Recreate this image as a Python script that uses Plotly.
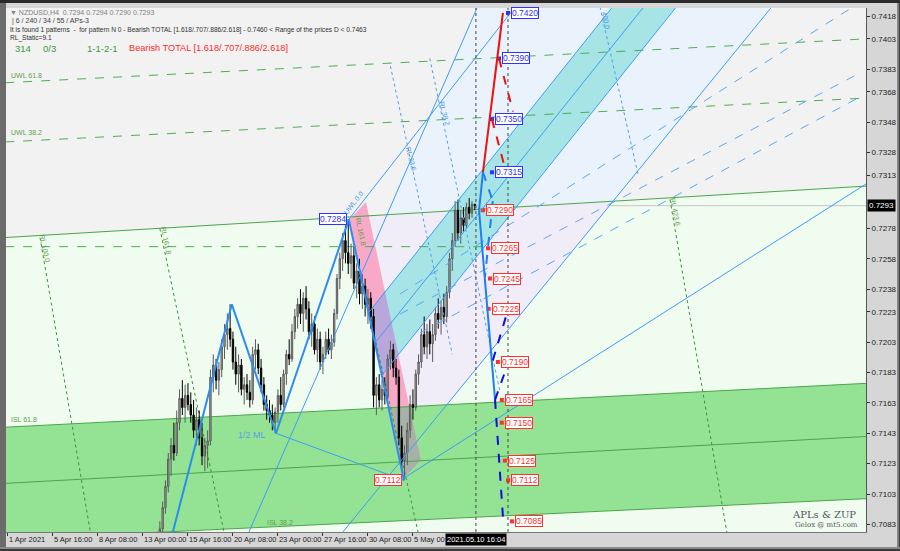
import plotly.graph_objects as go

# ---------------- data ----------------
bar_start = 53
opens = [.7060,.7068,.7080,.7094,.7108,.7126,.7135,.7130,.7150,.7166,.7160,.7168,.7162,.7155,.7145,.7152,.7140,.7128,.7135,.7138,
         .7180,.7188,.7178,.7185,.7200,.7208,.7212,.7205,.7190,.7182,.7188,.7172,.7175,.7170,.7165,.7195,.7198,.7186,.7175,.7162,
         .7158,.7155,.7150,.7157,.7168,.7162,.7182,.7195,.7192,.7210,.7220,.7228,.7222,.7232,.7225,.7210,.7215,.7198,.7205,.7190,
         .7195,.7205,.7198,.7203,.7222,.7245,.7258,.7270,.7262,.7255,.7260,.7242,.7250,.7235,.7240,.7228,.7232,.7220,.7168,.7175,
         .7165,.7172,.7168,.7192,.7198,.7186,.7180,.7140,.7125,.7130,.7145,.7162,.7160,.7182,.7190,.7208,.7200,.7210,.7202,.7208,
         .7222,.7218,.7226,.7220,.7236,.7258,.7270,.7290,.7275,.7285,.7280,.7292,.7288,.7294]
highs = [.7072,.7085,.7098,.7112,.7130,.7140,.7150,.7158,.7172,.7178,.7175,.7176,.7170,.7165,.7160,.7158,.7150,.7140,.7145,.7185,
         .7195,.7192,.7190,.7205,.7215,.7222,.7228,.7210,.7200,.7195,.7192,.7180,.7182,.7178,.7200,.7205,.7202,.7192,.7180,.7168,
         .7165,.7162,.7160,.7172,.7180,.7185,.7198,.7205,.7215,.7225,.7232,.7238,.7236,.7240,.7230,.7222,.7220,.7212,.7210,.7200,
         .7210,.7212,.7208,.7225,.7248,.7262,.7275,.7280,.7284,.7268,.7266,.7255,.7258,.7248,.7245,.7238,.7236,.7225,.7180,.7182,
         .7178,.7180,.7195,.7204,.7202,.7192,.7185,.7148,.7135,.7150,.7168,.7172,.7185,.7195,.7212,.7220,.7215,.7218,.7215,.7226,
         .7232,.7230,.7235,.7240,.7262,.7275,.7296,.7297,.7290,.7292,.7295,.7298,.7296,.7294]
lows = [.7055,.7064,.7076,.7090,.7104,.7115,.7125,.7128,.7145,.7155,.7150,.7158,.7150,.7140,.7135,.7135,.7122,.7118,.7120,.7135,
        .7170,.7172,.7168,.7180,.7192,.7198,.7200,.7185,.7175,.7170,.7168,.7162,.7165,.7160,.7162,.7185,.7182,.7170,.7158,.7152,
        .7150,.7145,.7143,.7150,.7158,.7160,.7175,.7188,.7190,.7205,.7212,.7215,.7210,.7218,.7205,.7200,.7195,.7190,.7185,.7182,
        .7192,.7195,.7192,.7200,.7218,.7238,.7250,.7255,.7248,.7245,.7238,.7232,.7228,.7225,.7220,.7215,.7212,.7160,.7155,.7160,
        .7158,.7162,.7165,.7185,.7180,.7175,.7135,.7118,.7112,.7122,.7140,.7152,.7158,.7175,.7186,.7195,.7192,.7195,.7190,.7204,
        .7212,.7208,.7215,.7216,.7232,.7250,.7266,.7270,.7268,.7276,.7278,.7284,.7285,.7290]
closes = [.7068,.7080,.7094,.7108,.7126,.7135,.7130,.7150,.7166,.7160,.7168,.7162,.7155,.7145,.7152,.7140,.7128,.7135,.7138,.7180,
          .7188,.7178,.7185,.7200,.7208,.7212,.7205,.7190,.7182,.7188,.7172,.7175,.7170,.7165,.7195,.7198,.7186,.7175,.7162,.7158,
          .7155,.7150,.7157,.7168,.7162,.7182,.7195,.7192,.7210,.7220,.7228,.7222,.7232,.7225,.7210,.7215,.7198,.7205,.7190,.7195,
          .7205,.7198,.7203,.7222,.7245,.7258,.7270,.7262,.7255,.7260,.7242,.7250,.7235,.7240,.7228,.7232,.7220,.7168,.7175,.7165,
          .7172,.7168,.7192,.7198,.7186,.7180,.7140,.7125,.7130,.7145,.7162,.7160,.7182,.7190,.7208,.7200,.7210,.7202,.7208,.7222,
          .7218,.7226,.7220,.7236,.7258,.7270,.7290,.7275,.7285,.7280,.7292,.7288,.7294,.7293]
bars = list(range(bar_start, bar_start + len(opens)))

x_tick_bars = [0, 16, 32, 48, 64, 80, 96, 112, 128, 144]
x_tick_text = ["1 Apr 2021", "5 Apr 16:00", "8 Apr 08:00", "13 Apr 00:00", "15 Apr 16:00",
               "20 Apr 08:00", "23 Apr 00:00", "27 Apr 16:00", "30 Apr 08:00", "5 May 00:00"]
y_tick_vals = [0.7418, 0.7403, 0.7383, 0.7368, 0.7348, 0.7328, 0.7313, 0.7278, 0.7258, 0.7238,
               0.7223, 0.7203, 0.7183, 0.7163, 0.7143, 0.7123, 0.7103, 0.7083]
last_price = 0.7293

# zigzag pivots (bar, price)
zz_bars = [55, 79.6, 95.3, 121.2, 140.8]
zz_prices = [0.7052, 0.7228, 0.7143, 0.7284, 0.7112]

# projection path (red up, blue down)
red_solid = [(168.9, 0.7315), (176.0, 0.7420)]
red_dash1 = [(174.6, 0.7390), (179.6, 0.7355)]
red_dash2 = [(172.1, 0.7350), (176.7, 0.7318)]
blue_solid = [(168.9, 0.7315), (167.5, 0.7290), (173.2, 0.7165)]
navy_dash = [(173.2, 0.7165), (176.0, 0.7088)]
blue_dash1 = [(168.9, 0.7315), (172.4, 0.7296), (169.6, 0.7246)]
blue_dash2 = [(172.4, 0.7191), (177.4, 0.7222)]
blue_dash3 = [(173.2, 0.7165), (177.4, 0.7187)]

proj_prices = [0.7420, 0.7390, 0.7350, 0.7315, 0.7290, 0.7265, 0.7245, 0.7225, 0.7190, 0.7165, 0.7150, 0.7125, 0.7112, 0.7085]
proj_bars = [177.8, 174.6, 172.1, 172.1, 168.9, 170.7, 171.4, 170.9, 174.2, 175.6, 175.6, 176.7, 177.8, 179.2]
proj_up = [True, True, True, True, False, False, False, False, False, False, False, False, False, False]

# straight lines (bar0, price0, bar1, price1)
green_solid = [(-1, 0.7272, 306, 0.7306), (-1, 0.7147, 306, 0.7176), (-1, 0.7110, 306, 0.7141), (-1, 0.7073, 306, 0.7100)]
green_dash = [(-1, 0.7374, 306, 0.7403), (-1, 0.7335, 306, 0.7364), (-1, 0.7266, 168.5, 0.7266)]
green_dot = [(11.4, 0.7272, 29.3, 0.7078), (54.0, 0.7278, 76.8, 0.7078), (121.2, 0.7284, 145.8, 0.7078), (235.4, 0.7297, 255.6, 0.7078)]
blue_thin = [(85.7, 0.7078, 168.0, 0.74285), (119.1, 0.7078, 271.6, 0.7424), (140.8, 0.71135, 305.1, 0.73073),
             (128.4, 0.72229, 216.9, 0.74285), (133.0, 0.71814, 239.6, 0.74285), (130.5, 0.72025, 228.0, 0.74285),
             (95.3, 0.7143, 140.8, 0.7112), (121.2, 0.7284, 182.3, 0.74285)]
blue_fan = [(139.4, 0.72348, 300.4, 0.74239), (139.4, 0.72216, 302.9, 0.73804), (146.5, 0.72091, 302.9, 0.73646)]
blue_dot = [(210.5, 0.7424, 224.0, 0.7314), (136.0, 0.7385, 158.0, 0.7195), (150.0, 0.7390, 175.0, 0.7170)]

# filled areas (list of (bar, price))
area_gray = [(-1, 0.7272), (306, 0.7306), (306, 0.7430), (-1, 0.7430)]
area_lightblue = [(166.8, 0.7424), (271.6, 0.7424), (215.5, 0.7296), (135.1, 0.72875)]
area_lavender = [(128.3, 0.72865), (215.5, 0.7296), (156.4, 0.71623), (142.8, 0.71607)]
area_greenband = [(-1, 0.7147), (306, 0.7176), (306, 0.7100), (-1, 0.7073)]
area_cyan = [(128.4, 0.72229), (216.9, 0.74285), (239.6, 0.74285), (133.0, 0.71814)]
area_pink = [(121.2, 0.72836), (127.3, 0.72954), (146.8, 0.71254), (140.8, 0.71135)]
area_purple = [(128.2, 0.72229), (134.0, 0.72368), (138.8, 0.71953), (133.0, 0.71814)]
area_grayish = [(135.4, 0.71601), (142.8, 0.71607), (146.8, 0.71254), (140.8, 0.71135)]

# ---------------- figure ----------------
fig = go.Figure()

fig.add_trace(go.Candlestick(
    x=bars, open=opens, high=highs, low=lows, close=closes,
    increasing=dict(line=dict(color="#5a5a5a", width=1), fillcolor="#a9a9a9"),
    decreasing=dict(line=dict(color="#000000", width=1), fillcolor="#000000"),
    whiskerwidth=0, showlegend=False, hoverinfo="skip"))

shapes = []

def poly(pts, color, layer="below"):
    path = "M " + " L ".join(f"{b},{p}" for b, p in pts) + " Z"
    shapes.append(dict(type="path", xref="x", yref="y", path=path, fillcolor=color,
                       line=dict(width=0), layer=layer))

def seg(l, color, width=1, dash="solid", layer="above"):
    b0, p0, b1, p1 = l
    shapes.append(dict(type="line", xref="x", yref="y", x0=b0, y0=p0, x1=b1, y1=p1,
                       line=dict(color=color, width=width, dash=dash), layer=layer))

def polyline(pts, color, width=2, dash="solid"):
    for a, b in zip(pts[:-1], pts[1:]):
        seg((a[0], a[1], b[0], b[1]), color, width, dash)

poly(area_gray, "#f2f2f2")
poly(area_lightblue, "#eaf3fc")
poly(area_lavender, "#f1edf8")
poly(area_greenband, "#94e394")
poly(area_pink, "#f7a9c7")
poly(area_cyan, "#a6e4e6")
poly(area_purple, "#b9a6da")
poly(area_grayish, "#a8b1a8")

# current price line
shapes.append(dict(type="line", xref="paper", yref="y", x0=0, x1=1, y0=last_price, y1=last_price,
                   line=dict(color="#c4c4c4", width=1), layer="below"))

for l in green_solid:
    seg(l, "#4aa54a", 1, layer="below")
for l in green_dash:
    seg(l, "#4caf50", 1, "dash", layer="below")
for l in green_dot:
    seg(l, "#3e8e3e", 1, "dot", layer="below")
for l in blue_thin:
    seg(l, "#3f9cf5", 1)
for l in blue_fan:
    seg(l, "#5aa8f2", 1, "dash")
for l in blue_dot:
    seg(l, "#4aa0f0", 1, "dot")

# vertical dotted lines
for b in [166.4, 177.8]:
    shapes.append(dict(type="line", xref="x", yref="paper", x0=b, x1=b, y0=0, y1=1,
                       line=dict(color="#444444", width=1, dash="dot"), layer="above"))

# zigzag
polyline(list(zip(zz_bars, zz_prices)), "#2e8cf0", 2)
polyline(red_solid, "#f01010", 2)
polyline(red_dash1, "#f01010", 2, "dash")
polyline(red_dash2, "#f01010", 2, "dash")
polyline(blue_solid, "#1e7ff0", 2)
polyline(navy_dash, "#1010d8", 2, "dash")
polyline(blue_dash1, "#1e7ff0", 2, "dash")
polyline(blue_dash2, "#1010d8", 2, "dash")
polyline(blue_dash3, "#1010d8", 2, "dash")

# frame pieces (paper coords)
W, H = 860.0, 524.0
frame = [
    (-6 / W, -19 / H, 0, 1 + 8 / H, "#6b6b6b"),
    (-6 / W, 1 + 5 / H, 1 + 34 / W, 1 + 8 / H, "#2a2a2a"),
    (1 + 31 / W, -19 / H, 1 + 32.5 / W, 1 + 5 / H, "#8a8a8a"),
    (1 + 32.5 / W, -19 / H, 1 + 34 / W, 1 + 5 / H, "#404040"),
    (-6 / W, -19 / H, 1 + 34 / W, -15 / H, "#8a8a8a"),
    (-6 / W, -19 / H, 1 + 34 / W, -17 / H, "#3a3a3a"),
]
for x0, y0, x1, y1, c in frame:
    shapes.append(dict(type="rect", xref="paper", yref="paper", x0=x0, y0=y0, x1=x1, y1=y1,
                       fillcolor=c, line=dict(width=0), layer="above"))

fig.update_layout(shapes=shapes)

# projection label boxes
ann = []
for b, p, up in zip(proj_bars, proj_prices, proj_up):
    c = "#3030ff" if up else "#ff3030"
    ann.append(dict(x=b, y=p, xref="x", yref="y", text=f"{p:.4f}", showarrow=False,
                    xanchor="left", yanchor="middle", xshift=3,
                    font=dict(family="Liberation Sans", size=8.5, color=c),
                    bgcolor="white", bordercolor=c, borderwidth=1, borderpad=0))
fig.add_trace(go.Scatter(x=proj_bars, y=proj_prices, mode="markers",
                         marker=dict(symbol="square", size=4,
                                     color=["#3030ff" if u else "#ff3030" for u in proj_up]),
                         showlegend=False, hoverinfo="skip"))
ann.append(dict(x=zz_bars[3], y=zz_prices[3], xref="x", yref="y", text="0.7284", showarrow=False,
                xanchor="right", yanchor="middle", xshift=-2,
                font=dict(family="Liberation Sans", size=8.5, color="#3030ff"),
                bgcolor="white", bordercolor="#3030ff", borderwidth=1, borderpad=0))
ann.append(dict(x=zz_bars[4], y=zz_prices[4], xref="x", yref="y", text="0.7112", showarrow=False,
                xanchor="right", yanchor="middle", xshift=-2,
                font=dict(family="Liberation Sans", size=8.5, color="#ff3030"),
                bgcolor="white", bordercolor="#ff3030", borderwidth=1, borderpad=0))

# line labels
lab_green = "#5f9e4a"
lab_blue = "#4a98e6"
line_labels = [
    ("UWL 61.8", 0.3, 0.7379, 0, lab_green, "left"),
    ("UWL 38.2", 0.3, 0.7341, 0, lab_green, "left"),
    ("ISL 61.8", 0.3, 0.7152, 0, lab_green, "left"),
    ("ISL 38.2", 91.4, 0.7084, 0, lab_green, "left"),
    ("RL 100.0", 13.2, 0.7265, 78, lab_green, "center"),
    ("RL 161.8", 56.2, 0.7270, 78, lab_green, "center"),
    ("RL 161.8", 125.5, 0.7276, 78, lab_green, "center"),
    ("RL 423.6", 237.2, 0.7289, 78, lab_green, "center"),
    ("UWL 0.0", 123.0, 0.7295, -52, lab_blue, "center"),
    ("400.0", 212.6, 0.7415, 78, lab_blue, "center"),
    ("RL 23.6", 143.3, 0.7324, 75, lab_blue, "center"),
    ("RL 38.2", 155.4, 0.7354, 75, lab_blue, "center"),
]
for t, b, p, ang, c, xa in line_labels:
    ann.append(dict(x=b, y=p, xref="x", yref="y", text=t, showarrow=False, textangle=ang,
                    xanchor=xa, yanchor="middle",
                    font=dict(family="Liberation Sans", size=7, color=c)))
ann.append(dict(x=86.8, y=0.7142, xref="x", yref="y", text="1/2 ML", showarrow=False,
                font=dict(family="Liberation Sans", size=9, color="#5a9fe0")))

# header texts
hdr = [
    ("\u25bc NZDUSD,H4  0.7294 0.7294 0.7290 0.7293", 8, 12, 7, "#808080"),
    ("| 6 / 240 / 34 / 55 / APs-3", 10, 21, 7, "#404040"),
    ("It is found 1 patterns  -  for pattern N 0 - Bearish TOTAL [1.618/.707/.886/2.618] - 0.7460 &lt; Range of the prices D &lt; 0.7463",
     8, 30, 6.6, "#303030"),
    ("RL_Static=9.1", 8, 38.5, 6.6, "#303030"),
    ("314", 13, 48, 9.5, "#3a9a3a"),
    ("0/3", 41, 48, 9.5, "#3a9a3a"),
    ("1-1-2-1", 85, 48, 9.5, "#3a9a3a"),
    ("Bearish TOTAL [1.618/.707/.886/2.618]", 127, 48, 9.2, "#ff2a2a"),
]
for t, px, py, s, c in hdr:
    ann.append(dict(x=(px - 6) / W, y=1 - (py - 8) / H, xref="paper", yref="paper", text=t,
                    showarrow=False, xanchor="left", yanchor="middle",
                    font=dict(family="Liberation Sans", size=s, color=c)))

# watermark
ann.append(dict(x=(858 - 6) / W, y=1 - (514 - 8) / H, xref="paper", yref="paper", text="APLs &amp; ZUP",
                showarrow=False, xanchor="right", yanchor="middle",
                font=dict(family="DejaVu Serif", size=10, color="#555555")))
ann.append(dict(x=(860 - 6) / W, y=1 - (525 - 8) / H, xref="paper", yref="paper", text="Gelox @ mt5.com",
                showarrow=False, xanchor="right", yanchor="middle",
                font=dict(family="DejaVu Serif", size=7, color="#555555")))

# price box on axis and time box
ann.append(dict(x=1, y=last_price, xref="paper", yref="y", text="0.7293", showarrow=False,
                xanchor="left", yanchor="middle", xshift=1,
                font=dict(family="Liberation Sans", size=8, color="white"),
                bgcolor="black", borderpad=1))
ann.append(dict(x=166.4, y=0, xref="x", yref="paper", text="2021.05.10 16:04", showarrow=False,
                xanchor="center", yanchor="top", yshift=-1,
                font=dict(family="Liberation Sans", size=7.5, color="white"),
                bgcolor="black", borderpad=1))

fig.update_layout(
    annotations=ann,
    width=900, height=551, autosize=False,
    margin=dict(l=6, r=34, t=8, b=19),
    paper_bgcolor="#d6d6d6",
    plot_bgcolor="#f0fcf0",
    showlegend=False,
    xaxis=dict(range=[-0.7, 305.1], type="linear", tickvals=x_tick_bars, ticktext=x_tick_text,
               ticklabelposition="outside right", tickangle=0, ticks="outside", ticklen=3, tickcolor="#333",
               showgrid=False, zeroline=False, rangeslider=dict(visible=False), automargin=False,
               tickfont=dict(family="Liberation Sans", size=7.5, color="#222"),
               showline=True, linecolor="#777", mirror=False, fixedrange=True),
    yaxis=dict(range=[0.707796, 0.742327], side="right", tickvals=y_tick_vals, automargin=False,
               ticktext=[f"{v:.4f}" for v in y_tick_vals], ticks="outside", ticklen=3, tickcolor="#333",
               showgrid=False, zeroline=False,
               tickfont=dict(family="Liberation Sans", size=8, color="#222"),
               showline=True, linecolor="#555", fixedrange=True),
)

fig.write_html("out.html", config={"displayModeBar": False},
               post_script="document.body.style.margin='0';document.body.style.overflow='hidden';")
